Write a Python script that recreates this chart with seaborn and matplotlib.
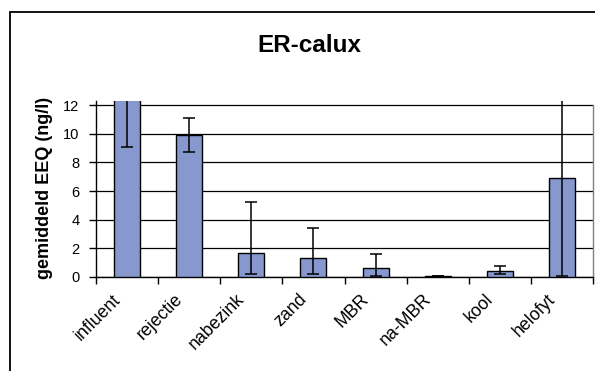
import matplotlib
matplotlib.use("Agg")
import matplotlib.pyplot as plt
from matplotlib.patches import Rectangle
from matplotlib.transforms import ScaledTranslation
import seaborn as sns
import pandas as pd

# Mean EEQ per treatment step with asymmetric error ranges
categories = ["influent", "rejectie", "nabezink", "zand", "MBR", "na-MBR", "kool", "helofyt"]
mean_eeq = [15.0, 9.9, 1.65, 1.33, 0.65, 0.08, 0.44, 6.89]
err_minus = [5.9, 1.2, 1.42, 1.1, 0.56, 0.0, 0.24, 6.8]
err_plus = [5.9, 1.2, 3.55, 2.12, 0.92, 0.0, 0.34, 6.8]
y_ticks = [0, 2, 4, 6, 8, 10, 12]

title = "ER-calux"
y_label = "gemiddeld EEQ (ng/l)"

sns.set_theme(style="white")
plt.rcParams["font.family"] = ["Liberation Sans", "DejaVu Sans"]
plt.rcParams.update({"text.color": "black", "axes.labelcolor": "black",
                     "xtick.color": "black", "ytick.color": "black"})

df = pd.DataFrame({"stap": categories, "eeq": mean_eeq})

W, H = 595, 371
fig = plt.figure(figsize=(W / 100, H / 100), dpi=100)
ax = fig.add_axes([96 / W, 1 - 277 / H, (593 - 96) / W, (277 - 101) / H])

sns.barplot(data=df, x="stap", y="eeq", ax=ax, color="#8798CF", saturation=1,
            width=0.42, edgecolor="black", linewidth=1.0, zorder=3)
ax.errorbar(range(len(categories)), mean_eeq, yerr=[err_minus, err_plus],
            fmt="none", ecolor="black", elinewidth=1.1, capsize=4.3, capthick=1.1,
            zorder=4)

ax.set_ylim(0, 12.28)
ax.set_xlim(-0.5, len(categories) - 0.5)
ax.set_yticks(y_ticks)
ax.set_yticklabels([str(t) for t in y_ticks], fontsize=10.5)
ax.grid(axis="y", color="black", linewidth=0.9, zorder=0)
ax.set_axisbelow(True)

# category labels at bar centres, tick marks at category boundaries
ax.set_xticks(range(len(categories)))
ax.set_xticklabels(categories, rotation=45, ha="right", va="center",
                   rotation_mode="anchor", fontsize=12.8)
ax.tick_params(axis="x", which="major", length=0, pad=0)
shift = ScaledTranslation(-9 / 100, -20 / 100, fig.dpi_scale_trans)
for lbl in ax.get_xticklabels():
    lbl.set_transform(lbl.get_transform() + shift)
ax.set_xticks([i - 0.5 for i in range(len(categories) + 1)], minor=True)
ax.tick_params(axis="x", which="minor", length=5, width=1, color="black",
               direction="out", bottom=True)
ax.tick_params(axis="y", length=5, width=1, color="black", direction="out",
               left=True, pad=7)

ax.set_xlabel("")
ax.set_ylabel(y_label, fontsize=13, fontweight="bold")
ax.yaxis.set_label_coords((53 - 96) / (593 - 96), (277 - 187.5) / (277 - 101))

for side in ("left", "bottom"):
    ax.spines[side].set_color("black")
    ax.spines[side].set_linewidth(1.0)
ax.spines["top"].set_visible(False)
ax.spines["right"].set_color("#808080")
ax.spines["right"].set_linewidth(1.0)
ax.spines["right"].set_bounds(0, 12)

fig.text(309 / W, 1 - 51.5 / H, title, ha="center", va="baseline",
         fontsize=17.5, fontweight="bold")

# outer chart frame
frame_top = 1 - 12 / H
fig.patches.append(Rectangle((10 / W, -0.2), 1.2, frame_top + 0.2,
                             transform=fig.transFigure, fill=False,
                             edgecolor="black", linewidth=1.3))

fig.savefig("out.png", dpi=100)
